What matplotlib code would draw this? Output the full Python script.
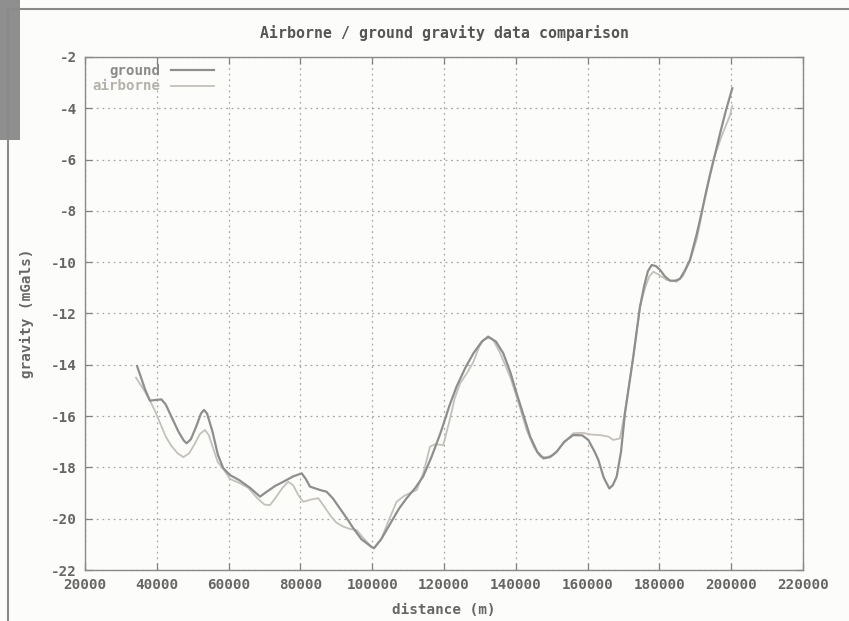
import matplotlib
matplotlib.use("Agg")
import matplotlib.pyplot as plt
from matplotlib.patches import Rectangle
from matplotlib.lines import Line2D

# ---- data ----
ground_x = [34500, 35500, 36700, 38100, 39700, 41300, 42500, 44000, 46000, 47500,
            48300, 49500, 51000, 52300, 53150, 54000, 55500, 57000, 58500, 60400,
            63000, 66000, 68750, 70600, 73000, 75240, 78000, 80360, 81500, 82670,
            85450, 87300, 89000, 91000, 93000, 94730, 97000, 99820, 100500, 102500,
            105000, 107500, 109600, 112000, 114200, 116500, 119000, 121500, 123500, 126000,
            128200, 130500, 132300, 134500, 136500, 138500, 140200, 142000, 144000, 146000,
            147700, 149500, 151400, 153500, 156000, 158500, 160200, 162000, 163000, 164500,
            166050, 167000, 168100, 169300, 170400, 172730, 174600, 175800, 176800, 177840,
            179000, 180200, 181500, 182950, 184500, 185700, 187000, 188530, 190400, 191300,
            194100, 196900, 198500, 200300]
ground_y = [-14.05, -14.45, -14.95, -15.4, -15.37, -15.35, -15.55, -16.0, -16.6, -16.95,
            -17.06, -16.9, -16.4, -15.9, -15.76, -15.9, -16.6, -17.5, -18.03, -18.3,
            -18.5, -18.8, -19.14, -18.95, -18.72, -18.56, -18.35, -18.23, -18.45, -18.75,
            -18.88, -18.95, -19.2, -19.6, -20.0, -20.37, -20.8, -21.1, -21.15, -20.8,
            -20.2, -19.6, -19.2, -18.8, -18.35, -17.6, -16.67, -15.6, -14.85, -14.1,
            -13.55, -13.1, -12.9, -13.1, -13.55, -14.3, -15.1, -15.9, -16.8, -17.4,
            -17.65, -17.6, -17.39, -17.0, -16.74, -16.75, -16.93, -17.4, -17.71, -18.4,
            -18.82, -18.7, -18.36, -17.4, -15.9, -13.68, -11.73, -10.9, -10.35, -10.11,
            -10.15, -10.3, -10.55, -10.72, -10.72, -10.65, -10.35, -9.9, -8.9, -8.35,
            -6.6, -4.98, -4.1, -3.22]

airborne_x = [34200, 36700, 38100, 39500, 41000, 42500, 44000, 45800, 47400, 49000,
              50500, 52000, 53430, 54500, 55800, 57000, 58500, 60400, 63180, 65500,
              68000, 70000, 71530, 73000, 75000, 76630, 78000, 79500, 80800, 83000,
              84990, 86500, 88250, 90000, 91950, 93800, 95660, 97500, 99800, 100500,
              102500, 104500, 106800, 109000, 112400, 114300, 116100, 117500, 119800, 121500,
              123000, 124500, 126500, 128200, 129800, 131000, 132500, 133700, 135500, 138400,
              140800, 143000, 145000, 146800, 148500, 150500, 153000, 156000, 158500, 161000,
              163450, 165800, 167150, 169000, 170400, 172730, 174600, 176000, 177200, 178300,
              180000, 182000, 184800, 186500, 188530, 190400, 191300, 193000, 195000, 197300,
              199700, 200300]
airborne_y = [-14.5, -15.05, -15.4, -15.8, -16.3, -16.8, -17.15, -17.45, -17.6, -17.45,
              -17.1, -16.7, -16.54, -16.75, -17.3, -17.8, -18.05, -18.45, -18.62, -18.8,
              -19.2, -19.45, -19.47, -19.2, -18.8, -18.56, -18.7, -19.1, -19.34, -19.25,
              -19.2, -19.5, -19.86, -20.15, -20.31, -20.4, -20.44, -20.75, -21.1, -21.15,
              -20.8, -20.1, -19.34, -19.1, -18.88, -18.2, -17.19, -17.1, -17.13, -16.2,
              -15.3, -14.72, -14.3, -13.88, -13.3, -13.03, -12.95, -13.03, -13.5, -14.46,
              -15.5, -16.54, -17.2, -17.58, -17.6, -17.52, -17.1, -16.67, -16.65, -16.72,
              -16.74, -16.8, -16.93, -16.87, -15.83, -13.68, -11.73, -11.0, -10.55, -10.37,
              -10.5, -10.69, -10.76, -10.55, -9.95, -9.1, -8.5, -7.2, -6.02, -5.1,
              -4.26, -3.9]

x_ticks = [20000, 40000, 60000, 80000, 100000, 120000, 140000, 160000, 180000, 200000, 220000]
y_ticks = [-2, -4, -6, -8, -10, -12, -14, -16, -18, -20, -22]

title = "Airborne / ground gravity data comparison"
xlabel = "distance (m)"
ylabel = "gravity (mGals)"

# ---- style ----
mono = "DejaVu Sans Mono"
txt_col = "#666666"
ground_col = "#8e8e8e"
air_col = "#c4c1ba"
bg = "#fcfcfa"

fig = plt.figure(figsize=(8.49, 6.21), dpi=100, facecolor=bg)
ax = fig.add_axes([85/849, 1 - 570/621, (803-85)/849, (570-57)/621], facecolor=bg)

# scan page frame decorations
fig.patches.append(Rectangle((0, 1 - 140/621), 20/849, 140/621, transform=fig.transFigure,
                             facecolor="#8f8f8f", edgecolor="none", zorder=-5))
fig.lines.append(Line2D([8/849, 1], [1 - 9/621, 1 - 9/621], transform=fig.transFigure,
                        color="#8a8a8a", lw=1.5))
fig.lines.append(Line2D([8/849, 8/849], [0, 1 - 9/621], transform=fig.transFigure,
                        color="#8a8a8a", lw=1.5))

ax.plot(ground_x, ground_y, color=ground_col, lw=1.6, label="ground", zorder=3,
        solid_joinstyle="round")
ax.plot(airborne_x, airborne_y, color=air_col, lw=1.3, label="airborne", zorder=2,
        solid_joinstyle="round")

ax.set_xlim(20000, 220000)
ax.set_ylim(-22, -2)
ax.set_xticks(x_ticks)
ax.set_xticklabels([str(v) for v in x_ticks])
ax.set_yticks(y_ticks)
ax.set_yticklabels([str(v) for v in y_ticks])

ax.grid(True, color="#a8a8a8", linestyle=(0, (1.5, 3)), lw=0.9)
ax.tick_params(direction="in", length=5, width=0.9, color="#808080",
               top=True, right=True, labelsize=10.3, labelcolor=txt_col, pad=6)
for lab in ax.get_xticklabels() + ax.get_yticklabels():
    lab.set_fontfamily(mono)
    lab.set_fontweight("bold")
for s in ax.spines.values():
    s.set_color("#8a8a8a")
    s.set_linewidth(1.0)

ax.set_title(title, fontfamily=mono, fontweight="bold", fontsize=10.7, color="#555555", pad=14)
ax.set_xlabel(xlabel, fontfamily=mono, fontweight="bold", fontsize=10.3, color=txt_col, labelpad=8)
ax.set_ylabel(ylabel, fontfamily=mono, fontweight="bold", fontsize=10.3, color=txt_col, labelpad=12)

leg = ax.legend(loc="upper left", frameon=False, markerfirst=False, handlelength=3.0,
                borderaxespad=0.1, labelspacing=0.1, handletextpad=0.8,
                prop={"family": mono, "weight": "bold", "size": 10.2})
for t, c in zip(leg.get_texts(), ["#8a8a8a", "#b5b2ab"]):
    t.set_color(c)

fig.savefig("out.png", dpi=100, facecolor=bg)
